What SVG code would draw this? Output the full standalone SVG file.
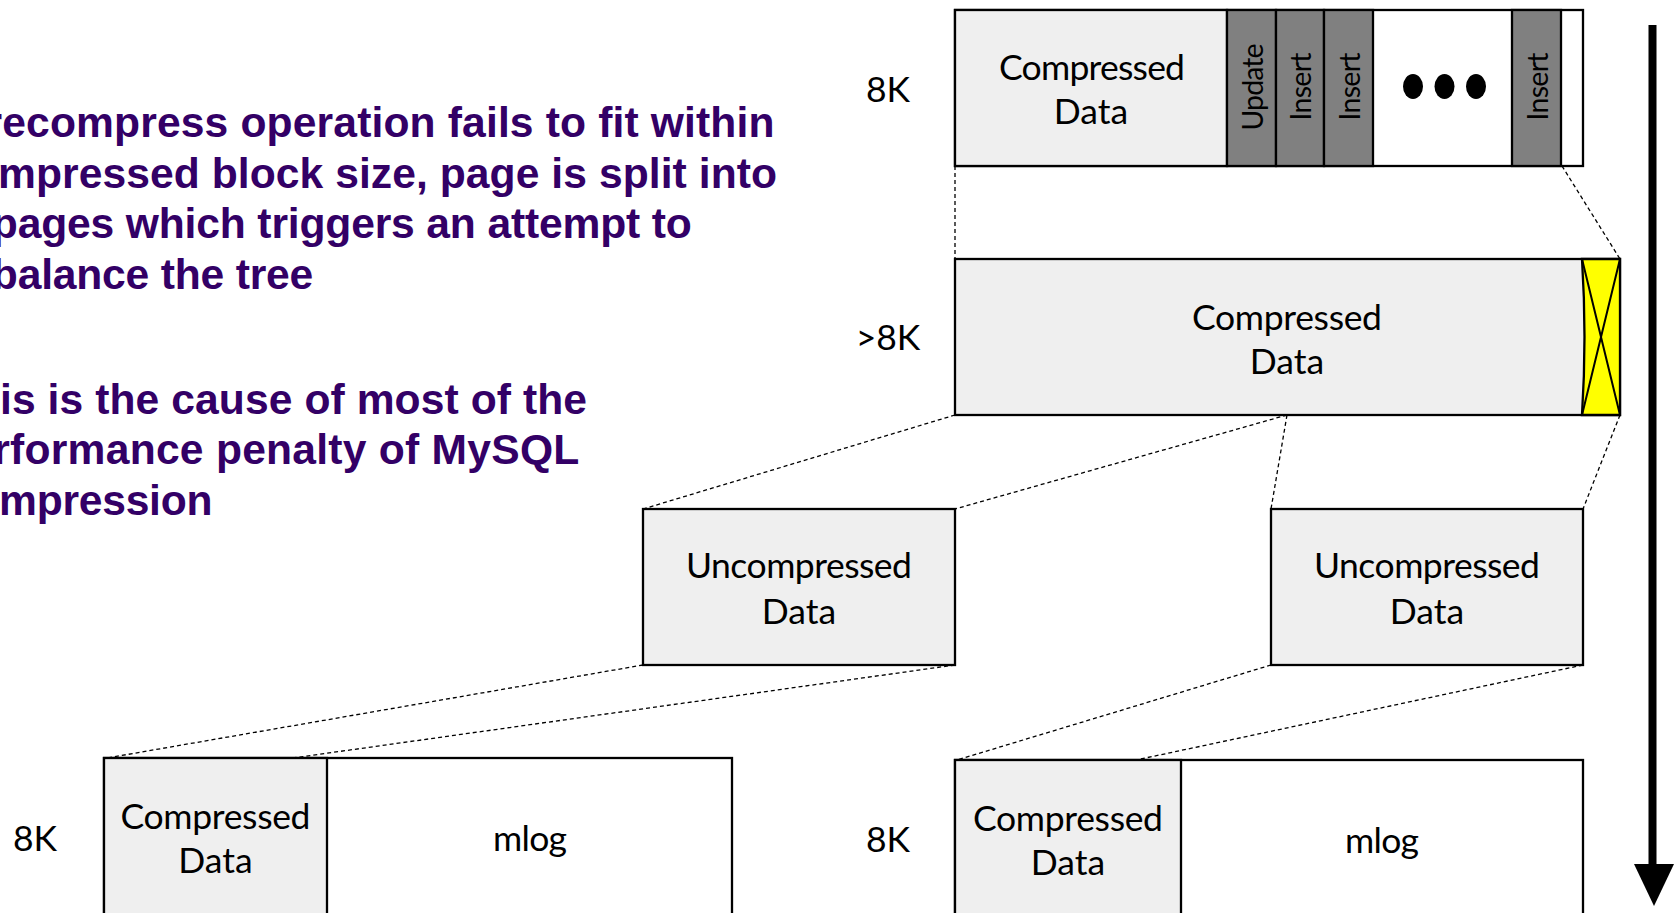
<svg xmlns="http://www.w3.org/2000/svg" width="1677" height="913" viewBox="0 0 1677 913">
  <style>
    .box { stroke: #000; stroke-width: 2.3; }
    .light { fill: #efefef; }
    .white { fill: #fff; }
    .dark { fill: #808080; }
    .lbl { font-family: Lato, "Open Sans", sans-serif; font-size: 35.5px; fill: #000; text-anchor: middle; }
    .rot { font-family: Lato, "Open Sans", sans-serif; font-size: 28.5px; fill: #000; text-anchor: middle; }
    .note { font-family: "Liberation Sans", Arial, sans-serif; font-weight: bold; font-size: 42.6px; fill: #330066; }
    .dash { fill: none; stroke: #000; stroke-width: 1.3; stroke-dasharray: 4 3; }
  </style>

  <rect width="1677" height="913" fill="#fff"/>

  <!-- explanatory text, running off the left edge -->
  <g id="notes" class="note">
    <text x="-14.5" y="137" textLength="789">recompress operation fails to fit within</text>
    <text x="-2" y="187.5" textLength="779">mpressed block size, page is split into</text>
    <text x="-8.2" y="238" textLength="700">pages which triggers an attempt to</text>
    <text x="-8.2" y="288.5" textLength="321.5">balance the tree</text>
    <text x="0" y="413.5" textLength="587">is is the cause of most of the</text>
    <text x="-6.7" y="464" textLength="586">rformance penalty of MySQL</text>
    <text x="-1" y="514.5" textLength="213.5">mpression</text>
  </g>

  <!-- dashed projection lines between levels -->
  <g id="connectors" class="dash">
    <line x1="955" y1="166" x2="955" y2="259"/>
    <line x1="1562" y1="166" x2="1620" y2="259"/>
    <line x1="955" y1="415" x2="643" y2="509"/>
    <line x1="1287" y1="415" x2="955" y2="509"/>
    <line x1="1287" y1="415" x2="1271" y2="509"/>
    <line x1="1620" y1="415" x2="1583" y2="509"/>
    <line x1="643" y1="665" x2="107" y2="758"/>
    <line x1="955" y1="665" x2="293" y2="758"/>
    <line x1="1271" y1="665" x2="957" y2="760"/>
    <line x1="1583" y1="665" x2="1136" y2="760"/>
  </g>

  <!-- 8K page with modification log -->
  <g id="page-8k-top">
    <text class="lbl" x="888" y="101.5">8K</text>
    <rect class="box white" x="955" y="10" width="628" height="156"/>
    <rect class="box light" x="955" y="10" width="272" height="156"/>
    <rect class="box dark" x="1227" y="10" width="49" height="156"/>
    <rect class="box dark" x="1276" y="10" width="48" height="156"/>
    <rect class="box dark" x="1324" y="10" width="49" height="156"/>
    <rect class="box dark" x="1512" y="10" width="49" height="156"/>
    <text class="lbl" x="1092" y="79.5" textLength="186">Compressed</text>
    <text class="lbl" x="1091" y="123.5">Data</text>
    <text class="rot" transform="translate(1262.5 87) rotate(-90)" textLength="87">Update</text>
    <text class="rot" transform="translate(1311 86.5) rotate(-90)" textLength="68">Insert</text>
    <text class="rot" transform="translate(1359.5 86.5) rotate(-90)" textLength="68">Insert</text>
    <text class="rot" transform="translate(1547.5 86.5) rotate(-90)" textLength="68">Insert</text>
    <ellipse cx="1413" cy="86.5" rx="10" ry="12.5" fill="#000"/>
    <ellipse cx="1444.5" cy="86.5" rx="10" ry="12.5" fill="#000"/>
    <ellipse cx="1476" cy="86.5" rx="10" ry="12.5" fill="#000"/>
  </g>

  <!-- recompressed page that overflows 8K -->
  <g id="page-overflow">
    <text class="lbl" x="888" y="350">&gt;8K</text>
    <rect class="box light" x="955" y="259" width="665" height="156"/>
    <path class="box" fill="#ffff00" d="M1582 259 Q1587 337 1582 415 L1620 415 L1620 259 Z"/>
    <path d="M1582 259 L1620 415 M1620 259 L1582 415" stroke="#000" stroke-width="2"/>
    <text class="lbl" x="1287" y="329.5" textLength="190">Compressed</text>
    <text class="lbl" x="1287" y="373.5">Data</text>
  </g>

  <!-- split halves -->
  <g id="uncompressed-left">
    <rect class="box light" x="643" y="509" width="312" height="156"/>
    <text class="lbl" x="799" y="578" textLength="226">Uncompressed</text>
    <text class="lbl" x="799" y="623.5">Data</text>
  </g>
  <g id="uncompressed-right">
    <rect class="box light" x="1271" y="509" width="312" height="156"/>
    <text class="lbl" x="1427" y="578" textLength="226">Uncompressed</text>
    <text class="lbl" x="1427" y="623.5">Data</text>
  </g>

  <!-- recompressed 8K pages -->
  <g id="page-8k-left">
    <text class="lbl" x="35" y="850.5">8K</text>
    <rect class="box white" x="104" y="758" width="628" height="180"/>
    <rect class="box light" x="104" y="758" width="223" height="180"/>
    <text class="lbl" x="215.5" y="828.5" textLength="190">Compressed</text>
    <text class="lbl" x="215.5" y="872.5">Data</text>
    <text class="lbl" x="530" y="851" textLength="74">mlog</text>
  </g>
  <g id="page-8k-right">
    <text class="lbl" x="888" y="852">8K</text>
    <rect class="box white" x="955" y="760" width="628" height="180"/>
    <rect class="box light" x="955" y="760" width="226" height="180"/>
    <text class="lbl" x="1068" y="830.5" textLength="190">Compressed</text>
    <text class="lbl" x="1068" y="874.5">Data</text>
    <text class="lbl" x="1382" y="853" textLength="74">mlog</text>
  </g>

  <!-- time arrow -->
  <g id="time-arrow">
    <rect x="1648.5" y="25" width="8" height="842" fill="#000"/>
    <path d="M1634 864 L1674 864 L1654 906 Z" fill="#000"/>
  </g>
</svg>
